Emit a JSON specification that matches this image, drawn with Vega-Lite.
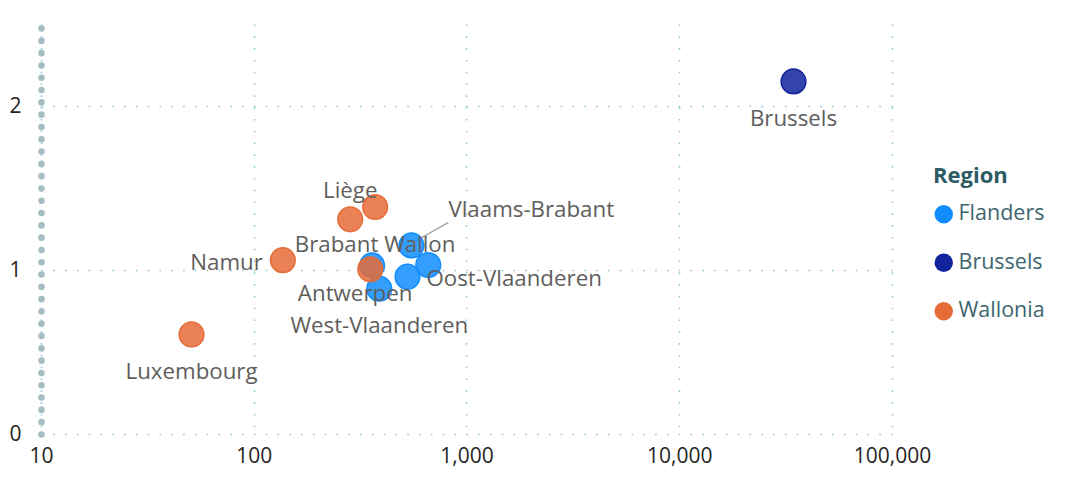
{
  "$schema": "https://vega.github.io/schema/vega-lite/v6.json",
  "autosize": "none",
  "width": 851,
  "height": 410,
  "padding": {"left": 41, "top": 24, "right": 190, "bottom": 51},
  "background": "#ffffff",
  "config": {
    "view": {"stroke": null},
    "font": "Open Sans"
  },
  "data": {
    "values": [
      {"province": "Antwerpen", "region": "Flanders", "x": 360, "y": 1.028},
      {"province": "West-Vlaanderen", "region": "Flanders", "x": 389, "y": 0.886},
      {"province": "Vlaams-Brabant", "region": "Flanders", "x": 551, "y": 1.15},
      {"province": "Oost-Vlaanderen", "region": "Flanders", "x": 528, "y": 0.959},
      {"province": "Limburg", "region": "Flanders", "x": 661, "y": 1.03},
      {"province": "Brussels", "region": "Brussels", "x": 34440, "y": 2.15},
      {"province": "Luxembourg", "region": "Wallonia", "x": 51, "y": 0.607},
      {"province": "Namur", "region": "Wallonia", "x": 137, "y": 1.06},
      {"province": "Liège", "region": "Wallonia", "x": 284, "y": 1.309},
      {"province": "Brabant Wallon", "region": "Wallonia", "x": 372, "y": 1.384},
      {"province": "Hainaut", "region": "Wallonia", "x": 353, "y": 1.004}
    ]
  },
  "encoding": {
    "x": {
      "field": "x", "type": "quantitative",
      "scale": {"type": "log", "domain": [10, 100000], "nice": false},
      "axis": {
        "title": null, "values": [10, 100, 1000, 10000, 100000], "format": ",",
        "grid": true, "gridColor": "#8FCAD2", "gridDash": [1.6, 10.2], "gridWidth": 1.6,
        "domain": false, "ticks": false,
        "labelFont": "Open Sans", "labelFontSize": 21, "labelColor": "#252423",
        "labelPadding": 11, "labelFlush": false
      }
    },
    "y": {
      "field": "y", "type": "quantitative",
      "scale": {"domain": [0, 2.5], "nice": false},
      "axis": {
        "title": null, "values": [0, 1, 2],
        "grid": true, "gridColor": "#8FCAD2", "gridDash": [1.6, 10.2], "gridWidth": 1.6,
        "domain": true, "domainColor": "#A3BDC3", "domainWidth": 6.5, "domainCap": "round", "domainDash": [0.1, 12.2],
        "ticks": false,
        "labelFont": "Open Sans", "labelFontSize": 21, "labelColor": "#252423",
        "labelPadding": 20
      }
    }
  },
  "layer": [
    {
      "transform": [{"filter": {"field": "province", "oneOf": ["Vlaams-Brabant"]}}],
      "mark": {"type": "rule", "color": "#A6A6A6", "strokeWidth": 1.5, "xOffset": 2, "yOffset": -3, "x2Offset": 37, "y2Offset": -23},
      "encoding": {
        "x2": {"field": "x"},
        "y2": {"field": "y"}
      }
    },
    {
      "mark": {"type": "circle", "size": 610, "fillOpacity": 0.85, "strokeWidth": 1.5, "opacity": 1},
      "encoding": {
        "color": {
          "field": "region", "type": "nominal",
          "scale": {"domain": ["Flanders", "Brussels", "Wallonia"], "range": ["#118DFF", "#12239E", "#E66C37"]},
          "legend": {
            "title": "Region", "orient": "none", "legendX": 892, "legendY": 142,
            "titleFont": "Open Sans", "titleFontSize": 22, "titleFontWeight": "bold", "titleColor": "#2B5B63",
            "titlePadding": 15.5,
            "labelFont": "Open Sans", "labelFontSize": 21.5, "labelColor": "#3D6670", "labelOffset": 4,
            "symbolType": "circle", "symbolSize": 340, "symbolOpacity": 1, "symbolStrokeWidth": 0,
            "rowPadding": 25.5
          }
        },
        "stroke": {
          "field": "region", "type": "nominal",
          "scale": {"domain": ["Flanders", "Brussels", "Wallonia"], "range": ["#118DFF", "#12239E", "#E66C37"]},
          "legend": null
        }
      }
    },
    {
      "transform": [{"filter": {"field": "province", "oneOf": ["Brussels", "Luxembourg", "Brabant Wallon", "West-Vlaanderen"]}}],
      "mark": {"type": "text", "font": "Open Sans", "fontSize": 22.3, "color": "#605E5C", "align": "center", "baseline": "middle", "dy": 37.5},
      "encoding": {"text": {"field": "province"}}
    },
    {
      "transform": [{"filter": {"field": "province", "oneOf": ["Antwerpen"]}}],
      "mark": {"type": "text", "font": "Open Sans", "fontSize": 22.3, "color": "#605E5C", "align": "center", "baseline": "middle", "dx": -17, "dy": 28.5},
      "encoding": {"text": {"field": "province"}}
    },
    {
      "transform": [{"filter": {"field": "province", "oneOf": ["Liège"]}}],
      "mark": {"type": "text", "font": "Open Sans", "fontSize": 22.3, "color": "#605E5C", "align": "center", "baseline": "middle", "dy": -28},
      "encoding": {"text": {"field": "province"}}
    },
    {
      "transform": [{"filter": {"field": "province", "oneOf": ["Namur"]}}],
      "mark": {"type": "text", "font": "Open Sans", "fontSize": 22.3, "color": "#605E5C", "align": "right", "baseline": "middle", "dx": -20, "dy": 3},
      "encoding": {"text": {"field": "province"}}
    },
    {
      "transform": [{"filter": {"field": "province", "oneOf": ["Oost-Vlaanderen"]}}],
      "mark": {"type": "text", "font": "Open Sans", "fontSize": 22.3, "color": "#605E5C", "align": "left", "baseline": "middle", "dx": 19, "dy": 2.5},
      "encoding": {"text": {"field": "province"}}
    },
    {
      "transform": [{"filter": {"field": "province", "oneOf": ["Vlaams-Brabant"]}}],
      "mark": {"type": "text", "font": "Open Sans", "fontSize": 22.3, "color": "#605E5C", "align": "left", "baseline": "middle", "dx": 37, "dy": -35.5},
      "encoding": {"text": {"field": "province"}}
    }
  ]
}
